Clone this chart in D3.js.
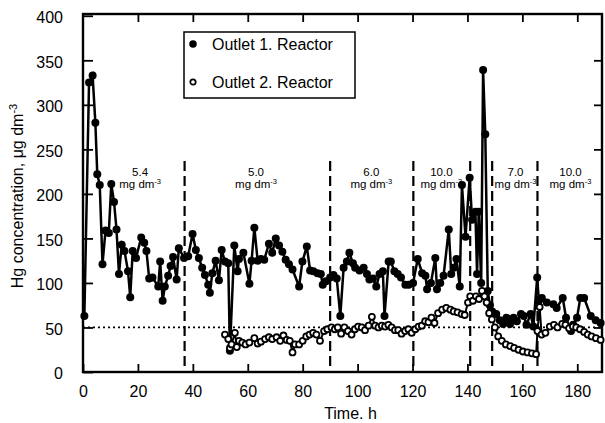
<!DOCTYPE html>
<html>
<head>
<meta charset="utf-8">
<script src="https://cdn.jsdelivr.net/npm/d3@7"></script>
<style>
    body { margin: 0; background: #fff; }
    svg text { font-family: Arial, "Liberation Sans", sans-serif; fill: #000; }
</style>
</head>
<body>
<div id="chart"></div>
<script>
// Outlet 1 (filled dots): [time h, Hg ug/dm3]
var outlet1 = [
    [0.5, 63], [2.2, 325], [3.5, 333], [4.5, 280], [5.2, 222], [6.1, 210], [7.1, 121],
    [8.2, 159], [9.4, 156], [10.3, 211], [11.3, 191], [12.2, 160], [13.1, 110], [14.1, 143],
    [15.1, 136], [16.4, 113], [17.2, 84], [18.1, 136], [19.3, 128], [21.2, 151], [22.3, 145],
    [23.1, 136], [24.1, 105], [25.3, 106], [27.4, 96], [28.1, 124], [29.0, 80], [29.8, 96],
    [31.0, 108], [31.9, 119], [32.8, 129], [34.1, 104], [34.9, 139], [36.8, 128], [38.3, 130],
    [39.9, 155], [41.1, 137], [42.2, 128], [43.4, 117], [44.4, 109], [45.6, 98], [46.2, 89],
    [47.1, 111], [48.3, 125], [49.5, 103], [50.5, 137], [51.7, 124], [52.9, 122], [53.5, 24],
    [55.1, 142], [56.3, 113], [56.8, 127], [58.4, 134], [60.6, 99], [61.4, 125], [62.4, 162],
    [63.6, 125], [64.8, 127], [66.0, 126], [67.7, 144], [68.9, 134], [70.2, 150], [71.4, 142],
    [72.6, 135], [73.8, 126], [75.0, 121], [76.3, 115], [78.7, 96], [79.9, 124], [81.5, 141],
    [82.7, 114], [83.9, 113], [85.4, 111], [86.6, 110], [87.3, 98], [88.5, 102], [90.0, 106],
    [91.2, 109], [92.4, 105], [93.7, 63], [94.9, 117], [96.1, 124], [97.0, 134], [98.3, 122],
    [99.1, 117], [100.7, 114], [102.2, 117], [103.4, 110], [104.3, 104], [105.6, 105], [106.8, 96],
    [108.0, 110], [109.2, 113], [109.8, 63], [111.3, 124], [112.1, 124], [113.4, 113], [114.6, 110],
    [115.8, 106], [117.4, 98], [118.6, 98], [120.2, 100], [121.9, 127], [123.5, 111], [124.7, 108],
    [125.3, 93], [126.7, 100], [128.3, 128], [128.9, 93], [130.1, 100], [131.3, 108], [133.2, 160],
    [134.1, 110], [135.0, 117], [136.0, 127], [137.2, 96], [138.0, 210], [139.3, 152], [140.8, 218],
    [141.7, 171], [142.9, 180], [143.5, 110], [144.1, 180], [145.0, 100], [145.7, 339], [146.5, 267],
    [147.4, 91], [148.2, 75], [149.0, 68], [150.5, 65], [151.8, 58], [153.0, 54], [154.2, 61],
    [155.5, 54], [156.8, 61], [158.0, 57], [159.5, 65], [160.5, 63], [161.5, 53], [163.0, 65],
    [164.0, 51], [165.4, 106], [166.0, 80], [167.1, 83], [168.9, 78], [171.3, 76], [172.5, 72],
    [174.7, 83], [175.9, 61], [177.7, 46], [178.5, 53], [179.9, 61], [181.1, 83], [182.5, 83],
    [184.9, 63], [186.7, 58], [188.5, 55]
];

// Outlet 2 (open dots)
var outlet2 = [
    [51.7, 42], [52.9, 37], [53.5, 27], [54.1, 31], [55.3, 44], [56.0, 28], [56.8, 35], [58.0, 33],
    [59.2, 31], [60.6, 33], [62.4, 38], [63.6, 32], [64.8, 34], [66.3, 37], [67.7, 39], [68.9, 37],
    [70.5, 39], [71.8, 35], [73.0, 41], [74.2, 36], [75.3, 35], [76.3, 22], [77.2, 31], [78.7, 31],
    [80.0, 35], [81.3, 40], [82.5, 42], [83.8, 44], [85.0, 42], [86.3, 35], [87.8, 46], [89.0, 48],
    [90.5, 50], [91.7, 48], [92.8, 50], [94.0, 43], [95.2, 50], [96.5, 46], [97.8, 42], [99.0, 48],
    [100.2, 51], [101.5, 50], [102.7, 47], [104.0, 52], [105.2, 62], [106.4, 52], [107.6, 50],
    [108.8, 52], [110.0, 51], [111.2, 53], [112.4, 50], [113.6, 47], [114.8, 47], [116.0, 43],
    [117.3, 46], [118.5, 48], [119.7, 44], [121.0, 48], [122.2, 51], [123.4, 52], [124.6, 57],
    [125.8, 56], [126.9, 61], [128.0, 55], [129.3, 66], [130.8, 70], [132.3, 72], [133.8, 70],
    [135.0, 68], [136.4, 67], [137.9, 65], [139.0, 64], [140.2, 78], [141.0, 85], [142.0, 80],
    [143.1, 85], [144.2, 82], [145.3, 91], [146.2, 85], [147.0, 78], [147.9, 66], [148.9, 59],
    [150.0, 50], [151.2, 40], [152.5, 35], [154.0, 31], [155.6, 29], [157.0, 27], [158.6, 25],
    [160.2, 23], [161.9, 22], [163.5, 21], [165.0, 20], [165.5, 46], [166.3, 73], [167.0, 42],
    [168.4, 44], [170.0, 51], [171.5, 53], [172.8, 50], [174.5, 54], [175.7, 53], [177.0, 49],
    [178.4, 51], [179.6, 50], [181.0, 48], [182.5, 45], [183.8, 42], [185.2, 40], [186.8, 38],
    [188.5, 36]
];

var xTicks = [0, 20, 40, 60, 80, 100, 120, 140, 160, 180];
var yTicks = [0, 50, 100, 150, 200, 250, 300, 350, 400];

// feed concentration periods
var dividerTimes = [37, 90, 120.3, 141, 149, 165.5];
var doseValues = ["5.4", "5.0", "6.0", "10.0", "7.0", "10.0"];
var doseCenters = [20.8, 63, 105, 130.5, 157.5, 177.5];
var limitLevel = 50;

var width = 605, height = 423;
var margin = {left: 83, right: 3, top: 14, bottom: 51};

var svg = d3.select("#chart").append("svg")
    .attr("width", width)
    .attr("height", height);

var x = d3.scaleLinear().domain([0, 189]).range([margin.left, width - margin.right]);
var y = d3.scaleLinear().domain([0, 402]).range([height - margin.bottom, margin.top]);

var x0 = x.range()[0], x1 = x.range()[1];
var y0 = y.range()[0], y1 = y.range()[1];

// axes, ticks point inward on all sides
svg.append("g")
    .attr("transform", "translate(0," + y0 + ")")
    .call(d3.axisBottom(x).tickValues(xTicks).tickSize(-8).tickPadding(14).tickSizeOuter(0))
    .call(function(g) {
        g.select(".domain").remove();
        g.selectAll("line").attr("stroke-width", 1.8);
        g.selectAll("text").style("font-size", "16px");
    });
svg.append("g")
    .attr("transform", "translate(0," + y1 + ")")
    .call(d3.axisTop(x).tickValues(xTicks.slice(1)).tickSize(-8).tickFormat("").tickSizeOuter(0))
    .call(function(g) {
        g.select(".domain").remove();
        g.selectAll("line").attr("stroke-width", 1.8);
    });
svg.append("g")
    .attr("transform", "translate(" + x0 + ",0)")
    .call(d3.axisLeft(y).tickValues(yTicks).tickSize(-10).tickPadding(20).tickSizeOuter(0))
    .call(function(g) {
        g.select(".domain").remove();
        g.selectAll("line").attr("stroke-width", 1.8);
        g.selectAll("text").style("font-size", "16px").attr("dy", "0.42em");
    });
svg.append("g")
    .attr("transform", "translate(" + x1 + ",0)")
    .call(d3.axisRight(y).tickValues(yTicks.slice(1, -1)).tickSize(-8).tickFormat("").tickSizeOuter(0))
    .call(function(g) {
        g.select(".domain").remove();
        g.selectAll("line").attr("stroke-width", 1.8);
    });

// frame
svg.append("rect")
    .attr("x", x0).attr("y", y1)
    .attr("width", x1 - x0).attr("height", y0 - y1)
    .attr("fill", "none")
    .attr("stroke", "#000")
    .attr("stroke-width", 2.4);

// axis titles
svg.append("text")
    .attr("x", (x0 + x1) / 2 + 8)
    .attr("y", 419)
    .attr("text-anchor", "middle")
    .style("font-size", "16px")
    .text("Time. h");

var yTitle = svg.append("text")
    .attr("transform", "translate(23," + 196 + ") rotate(-90)")
    .attr("text-anchor", "middle")
    .style("font-size", "16px");
yTitle.append("tspan").text("Hg concentration, μg dm");
yTitle.append("tspan").attr("dy", -6).style("font-size", "11px").text("-3");

// 50 ug limit line
svg.append("line")
    .attr("x1", x0).attr("x2", x1)
    .attr("y1", y(limitLevel)).attr("y2", y(limitLevel))
    .attr("stroke", "#000")
    .attr("stroke-width", 1.8)
    .attr("stroke-dasharray", "2,3");

// period dividers
svg.selectAll("line.divider")
    .data(dividerTimes)
    .enter()
    .append("line")
    .attr("class", "divider")
    .attr("x1", function(d) { return x(d); })
    .attr("x2", function(d) { return x(d); })
    .attr("y1", y(237))
    .attr("y2", y0)
    .attr("stroke", "#000")
    .attr("stroke-width", 2.2)
    .attr("stroke-dasharray", "10,5");

// dose labels
var doses = svg.selectAll("g.dose")
    .data(doseValues)
    .enter()
    .append("g")
    .attr("class", "dose")
    .attr("transform", function(d, i) { return "translate(" + x(doseCenters[i]) + ",0)"; });
doses.append("text")
    .attr("y", 176)
    .attr("text-anchor", "middle")
    .style("font-size", "11.5px")
    .text(function(d) { return d; });
var unit = doses.append("text")
    .attr("y", 187.5)
    .attr("text-anchor", "middle")
    .style("font-size", "11.5px");
unit.append("tspan").text("mg dm");
unit.append("tspan").attr("dy", -4).style("font-size", "7.5px").text("-3");

var line = d3.line()
    .x(function(d) { return x(d[0]); })
    .y(function(d) { return y(d[1]); });

// outlet 2 underneath
svg.append("path")
    .datum(outlet2)
    .attr("d", line)
    .attr("fill", "none")
    .attr("stroke", "#000")
    .attr("stroke-width", 2);
svg.append("path")
    .datum(outlet1)
    .attr("d", line)
    .attr("fill", "none")
    .attr("stroke", "#000")
    .attr("stroke-width", 2.5);

svg.selectAll("circle.o1")
    .data(outlet1)
    .enter()
    .append("circle")
    .attr("class", "o1")
    .attr("cx", function(d) { return x(d[0]); })
    .attr("cy", function(d) { return y(d[1]); })
    .attr("r", 4)
    .attr("fill", "#000");

svg.selectAll("circle.o2")
    .data(outlet2)
    .enter()
    .append("circle")
    .attr("class", "o2")
    .attr("cx", function(d) { return x(d[0]); })
    .attr("cy", function(d) { return y(d[1]); })
    .attr("r", 3)
    .attr("fill", "#fff")
    .attr("stroke", "#000")
    .attr("stroke-width", 1.8);

// legend
var legend = svg.append("g").attr("transform", "translate(184,32)");
legend.append("rect")
    .attr("width", 171).attr("height", 66)
    .attr("fill", "#fff")
    .attr("stroke", "#000")
    .attr("stroke-width", 1.5);
legend.append("circle").attr("cx", 9).attr("cy", 12).attr("r", 3.8).attr("fill", "#000");
legend.append("circle").attr("cx", 9).attr("cy", 50).attr("r", 2.7)
    .attr("fill", "#fff").attr("stroke", "#000").attr("stroke-width", 1.7);
legend.append("text").attr("x", 28).attr("y", 18).style("font-size", "16px").text("Outlet 1. Reactor");
legend.append("text").attr("x", 28).attr("y", 56).style("font-size", "16px").text("Outlet 2. Reactor");
</script>
</body>
</html>
